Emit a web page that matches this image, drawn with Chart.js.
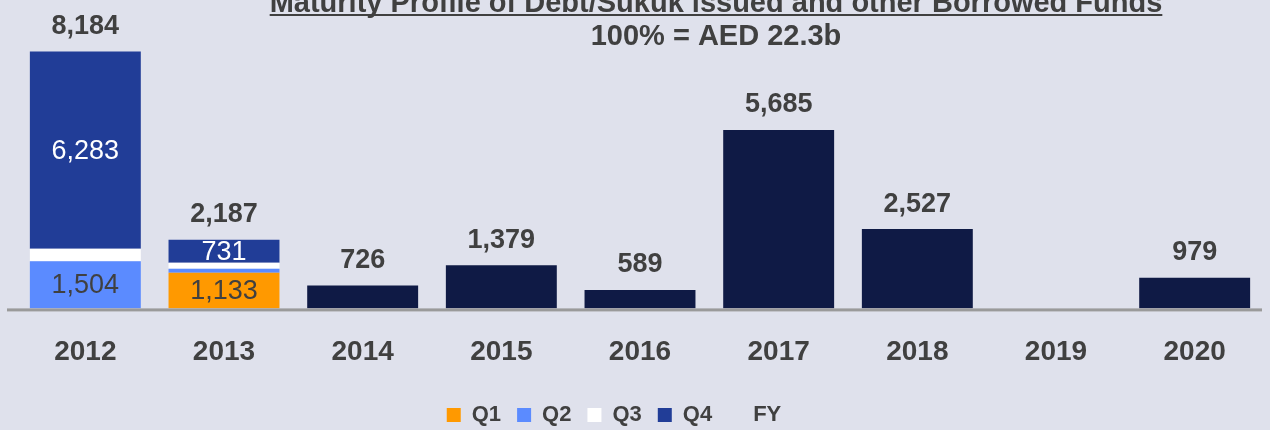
<!DOCTYPE html>
<html>
<head>
<meta charset="utf-8">
<script src="https://cdn.jsdelivr.net/npm/chart.js@4.4.1/dist/chart.umd.min.js"></script>
<style>
  body { margin: 0; background: #dfe1ec; }
  #wrap { width: 1270px; height: 430px; position: relative; }
</style>
</head>
<body>
<div id="wrap"><canvas id="maturity-chart"></canvas></div>
<script>
// values in AED m
const years = ['2012', '2013', '2014', '2015', '2016', '2017', '2018', '2019', '2020'];
const q1 = [null, 1133, null, null, null, null, null, null, null];
const q2 = [1504, 130, null, null, null, null, null, null, null];
const q3 = [397, 193, null, null, null, null, null, null, null];
const q4 = [6283, 731, null, null, null, null, null, null, null];
const fy = [null, null, 726, 1379, 589, 5685, 2527, null, 979];

const titleText = 'Maturity Profile of Debt/Sukuk issued and other Borrowed Funds';
const subtitleText = '100% = AED 22.3b';

const textColor = '#404040';
const fontFamily = '"Liberation Sans", Arial, sans-serif';

renderChart()

function renderChart(){
    let element = document.getElementById('maturity-chart');

    // header text, underlined title
    const titlePlugin = {
        id: 'titles',
        afterDraw(chart){
            const ctx = chart.ctx;
            const cx = 716;
            ctx.save();
            ctx.fillStyle = textColor;
            ctx.textAlign = 'center';
            ctx.textBaseline = 'alphabetic';
            ctx.font = 'bold 29px ' + fontFamily;
            ctx.fillText(titleText, cx, 12);
            let w = ctx.measureText(titleText).width;
            ctx.fillRect(cx - w / 2, 14, w, 2);
            ctx.textBaseline = 'middle';
            ctx.fillText(subtitleText, cx, 37);
            ctx.restore();
        }
    };

    // grey base line
    const baseLinePlugin = {
        id: 'baseLine',
        afterDatasetsDraw(chart){
            const ctx = chart.ctx;
            const y = chart.scales.y.getPixelForValue(0);
            ctx.save();
            ctx.fillStyle = '#9a9a9a';
            ctx.fillRect(7, y, chart.chartArea.right - 9, 3);
            ctx.restore();
        }
    };

    // keep the legend a bit left of centre, as in the original
    const legendShift = {
        id: 'legendShift',
        afterLayout(chart){
            chart.legend.left -= 26;
            chart.legend.right -= 26;
        }
    };

    // segment values and totals
    const labelPlugin = {
        id: 'barLabels',
        afterDatasetsDraw(chart){
            const ctx = chart.ctx;
            ctx.save();
            ctx.textAlign = 'center';
            ctx.textBaseline = 'middle';
            ctx.font = '27px ' + fontFamily;
            chart.data.datasets.forEach((ds, i) => {
                if(!ds.segmentLabel) return;
                const meta = chart.getDatasetMeta(i);
                meta.data.forEach((bar, j) => {
                    const v = ds.data[j];
                    if(v == null || v < 500) return;
                    ctx.fillStyle = ds.labelColor;
                    ctx.fillText(v.toLocaleString('en-US'), bar.x, (bar.y + bar.base) / 2 + 1);
                });
            });
            ctx.font = 'bold 27px ' + fontFamily;
            ctx.fillStyle = textColor;
            const xScale = chart.scales.x;
            const yScale = chart.scales.y;
            years.forEach((yr, j) => {
                const total = [q1, q2, q3, q4, fy].reduce((s, arr) => s + (arr[j] || 0), 0);
                if(!total) return;
                ctx.fillText(total.toLocaleString('en-US'), xScale.getPixelForValue(j), yScale.getPixelForValue(total) - 25);
            });
            ctx.restore();
        }
    };

    const chart = new Chart(element, {
        type: 'bar',
        data: {
            labels: years,
            datasets: [
                { label: 'Q1', data: q1, backgroundColor: '#ff9900', segmentLabel: true, labelColor: textColor },
                { label: 'Q2', data: q2, backgroundColor: '#5b8bff', segmentLabel: true, labelColor: textColor },
                { label: 'Q3', data: q3, backgroundColor: '#ffffff' },
                { label: 'Q4', data: q4, backgroundColor: '#213d97', segmentLabel: true, labelColor: '#ffffff' },
                { label: 'FY', data: fy, backgroundColor: '#0f1a45' }
            ]
        },
        options: {
            responsive: true,
            maintainAspectRatio: false,
            animation: false,
            barPercentage: 0.8,
            categoryPercentage: 1,
            layout: {
                padding: { top: 26, left: 16, right: 6, bottom: -6 }
            },
            plugins: {
                tooltip: { enabled: false },
                title: { display: false },
                legend: {
                    position: 'bottom',
                    labels: {
                        color: textColor,
                        font: { family: fontFamily, size: 22, weight: 'bold' },
                        boxWidth: 14,
                        boxHeight: 14,
                        padding: 16,
                        generateLabels(chart){
                            const items = Chart.defaults.plugins.legend.labels.generateLabels(chart);
                            items.forEach(it => {
                                it.lineWidth = 0;
                                if(it.text === 'FY'){
                                    it.fillStyle = 'rgba(0,0,0,0)';
                                    it.strokeStyle = 'rgba(0,0,0,0)';
                                }
                            });
                            return items;
                        }
                    }
                }
            },
            scales: {
                x: {
                    stacked: true,
                    grid: { display: false, drawTicks: false },
                    border: { display: false },
                    ticks: {
                        color: textColor,
                        padding: 27,
                        font: { family: fontFamily, size: 28, weight: 'bold' }
                    },
                    afterFit(scale){ scale.height -= 8; }
                },
                y: {
                    stacked: true,
                    display: false,
                    min: 0,
                    max: 9000
                }
            }
        },
        plugins: [titlePlugin, baseLinePlugin, labelPlugin, legendShift]
    });
}
</script>
</body>
</html>
